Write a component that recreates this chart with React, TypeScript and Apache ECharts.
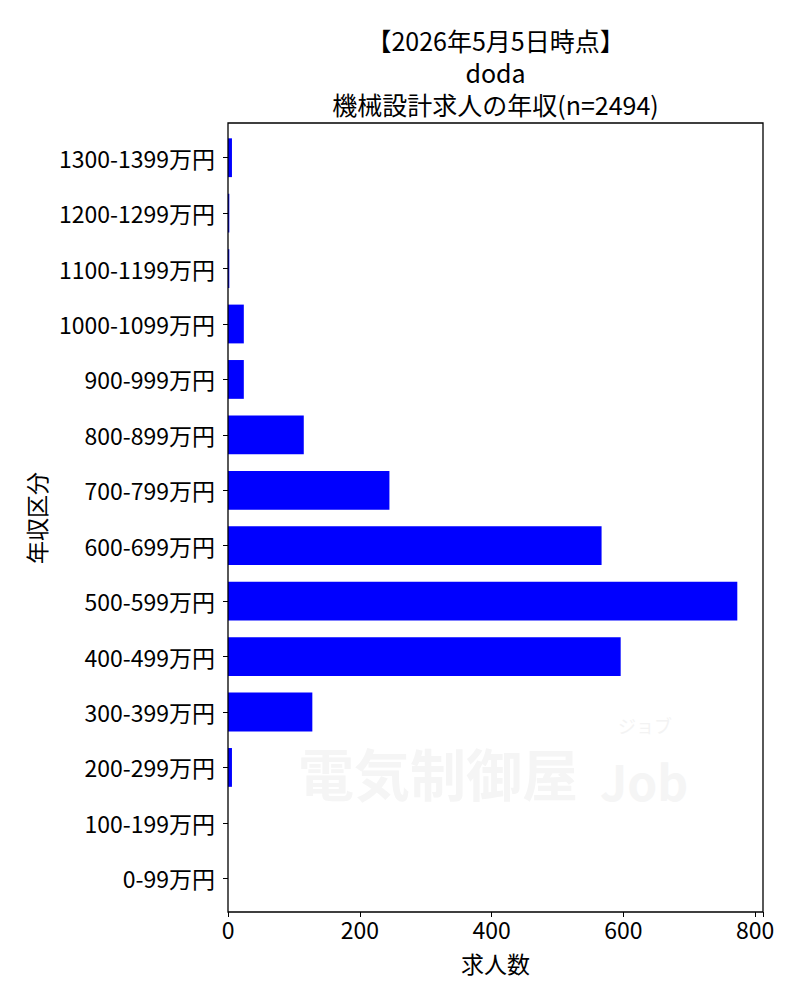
import React, { useEffect, useRef } from "react";
import * as echarts from "echarts";

const categories: string[] = [
  "0-99万円",
  "100-199万円",
  "200-299万円",
  "300-399万円",
  "400-499万円",
  "500-599万円",
  "600-699万円",
  "700-799万円",
  "800-899万円",
  "900-999万円",
  "1000-1099万円",
  "1100-1199万円",
  "1200-1299万円",
  "1300-1399万円",
];
const counts: number[] = [0, 0, 6, 128, 596, 773, 567, 245, 115, 24, 24, 2, 2, 6];
const xTicks: number[] = [0, 200, 400, 600, 800];
const titleLines: string[] = ["【2026年5月5日時点】", "doda", "機械設計求人の年収(n=2494)"];

const FONT = "'Noto Sans CJK JP', 'Noto Sans', sans-serif";

export default function App() {
  const ref = useRef<HTMLDivElement>(null);
  useEffect(() => {
    if (!ref.current) return;
    const chart = echarts.init(ref.current, null, { renderer: "svg" });
    // container sits at (8, 8) due to body margin
    const left = 220, right = 755, top = 115, bottom = 904;
    const gridTop = 122, gridBottom = 898;
    const titleTops = [18, 50, 82];
    chart.setOption({
      animation: false,
      backgroundColor: "#fff",
      textStyle: { fontFamily: FONT },
      title: titleLines.map((t, i) => ({
        text: t,
        left: (left + right) / 2,
        top: titleTops[i],
        textAlign: "center",
        padding: 0,
        textStyle: {
          fontFamily: FONT,
          fontSize: 25,
          fontWeight: "normal",
          color: "#000",
          lineHeight: 27,
        },
      })),
      grid: {
        left: left,
        right: 800 - right,
        top: gridTop,
        bottom: 1000 - gridBottom,
        containLabel: false,
      },
      xAxis: {
        type: "value",
        min: 0,
        max: 812,
        interval: 200,
        offset: bottom - gridBottom,
        axisLine: { show: false },
        axisTick: { show: true, length: 5, lineStyle: { color: "#000", width: 1 } },
        splitLine: { show: false },
        axisLabel: {
          margin: 5,
          fontSize: 23,
          color: "#000",
          fontFamily: FONT,
          customValues: xTicks,
        },
        axisPointer: { show: false },
        name: "求人数",
        nameLocation: "middle",
        nameGap: 39,
        nameTextStyle: { fontSize: 23, color: "#000", fontFamily: FONT },
      },
      yAxis: {
        type: "category",
        data: categories,
        axisLine: { show: false },
        axisTick: { show: true, alignWithLabel: true, length: 5, lineStyle: { color: "#000", width: 1 } },
        axisLabel: { margin: 13, fontSize: 23, color: "#000", fontFamily: FONT },
        name: "年収区分",
        nameLocation: "middle",
        nameRotate: 90,
        nameGap: 176,
        nameTextStyle: { fontSize: 23, color: "#000", fontFamily: FONT },
      },
      series: [
        {
          type: "bar",
          data: counts,
          barWidth: "70%",
          itemStyle: { color: "#0000ff" },
          z: 2,
        },
      ],
      graphic: [
        {
          type: "text",
          left: 290,
          top: 735,
          z: 0,
          silent: true,
          style: {
            text: "電気制御屋",
            fontSize: 56,
            fontWeight: "bold",
            fontFamily: FONT,
            fill: "#f5f5f5",
          },
        },
        {
          type: "text",
          left: 610,
          top: 708,
          z: 0,
          silent: true,
          style: {
            text: "ジョブ",
            fontSize: 18,
            fontFamily: FONT,
            fill: "#f3f3f3",
          },
        },
        {
          type: "text",
          left: 592,
          top: 748,
          z: 0,
          silent: true,
          style: {
            text: "Job",
            fontSize: 48,
            fontWeight: "bold",
            fontFamily: FONT,
            fill: "#f5f5f5",
          },
        },
        {
          type: "rect",
          z: 10,
          silent: true,
          shape: { x: left, y: top, width: right - left, height: bottom - top },
          style: { fill: "none", stroke: "#000", lineWidth: 1.3 },
        },
      ],
    });
    return () => chart.dispose();
  }, []);
  return <div ref={ref} style={{ width: 800, height: 1000 }} />;
}
